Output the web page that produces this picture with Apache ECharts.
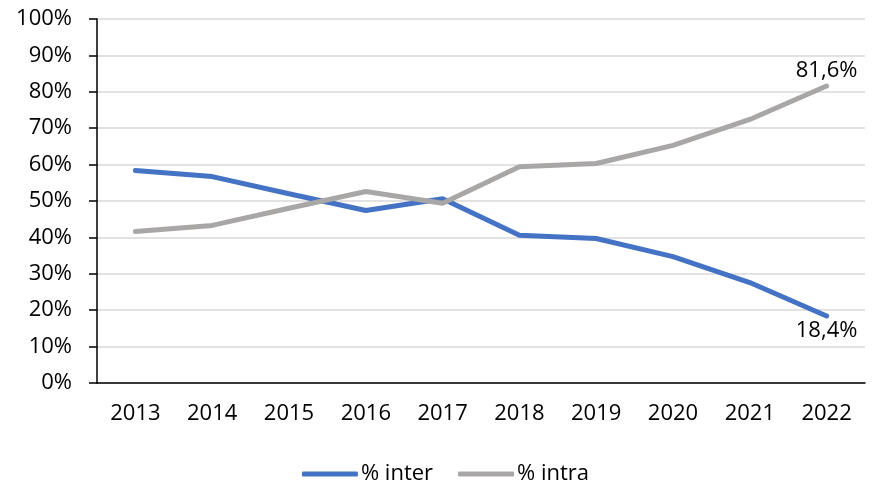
<!DOCTYPE html>
<html><head><meta charset="utf-8">
<script src="https://cdn.jsdelivr.net/npm/echarts@6/dist/echarts.min.js"></script>
<style>html,body{margin:0;padding:0;background:#fff}#c{width:891px;height:485px}</style>
</head><body><div id="c"></div>
<script>
const years = ['2013','2014','2015','2016','2017','2018','2019','2020','2021','2022'];
const inter = [58.4, 56.7, 52.0, 47.4, 50.6, 40.6, 39.7, 34.7, 27.6, 18.4];
const intra = [41.6, 43.3, 48.0, 52.6, 49.4, 59.4, 60.3, 65.3, 72.4, 81.6];
const seriesNames = ['% inter', '% intra'];
const font = "'Open Sans', 'Liberation Sans', sans-serif";
const FS = 22;
const fmt = v => v.toFixed(1).replace('.', ',') + '%';
function mk(arr, pos) {
  return arr.map((v, i) => i === arr.length - 1 ? {value: v, label: {show: true, position: pos, formatter: p => fmt(p.value), fontSize: FS, color: '#000', fontFamily: font, distance: 4}} : v);
}
const chart = echarts.init(document.getElementById('c'), null, {renderer: 'canvas'});
chart.setOption({
  animation: false,
  grid: {left: 97, right: 26, top: 19, bottom: 102},
  legend: {top: 458, left: 'center', itemWidth: 56, itemHeight: 5, itemGap: 25,
    textStyle: {fontSize: FS, color: '#000', fontFamily: font, padding: [0, 0, 0, -2]},
    data: seriesNames.map(n => ({name: n, icon: 'roundRect'}))},
  xAxis: {type: 'category', data: years, boundaryGap: true,
    axisLine: {lineStyle: {color: '#000', width: 1.5}},
    axisTick: {alignWithLabel: true, length: 6, lineStyle: {color: '#000', width: 1.5}},
    axisLabel: {fontSize: FS, color: '#000', fontFamily: font, margin: 20}},
  yAxis: {type: 'value', min: 0, max: 100, interval: 10,
    axisLine: {show: true, lineStyle: {color: '#000', width: 1.5}},
    axisTick: {show: true, length: 8, lineStyle: {color: '#000', width: 1.5}},
    axisLabel: {fontSize: FS, color: '#000', fontFamily: font, formatter: '{value}%', margin: 25},
    splitLine: {lineStyle: {color: '#D9D9D9', width: 1.5}}},
  series: [
    {name: seriesNames[0], type: 'line', data: mk(inter, 'bottom'), symbol: 'circle', symbolSize: 0, showSymbol: true, lineStyle: {color: '#4472C4', width: 5, cap: 'round'}, itemStyle: {color: '#4472C4'}},
    {name: seriesNames[1], type: 'line', data: mk(intra, 'top'), symbol: 'circle', symbolSize: 0, showSymbol: true, lineStyle: {color: '#A9A6A6', width: 5, cap: 'round'}, itemStyle: {color: '#A9A6A6'}}
  ]
});
</script></body></html>
